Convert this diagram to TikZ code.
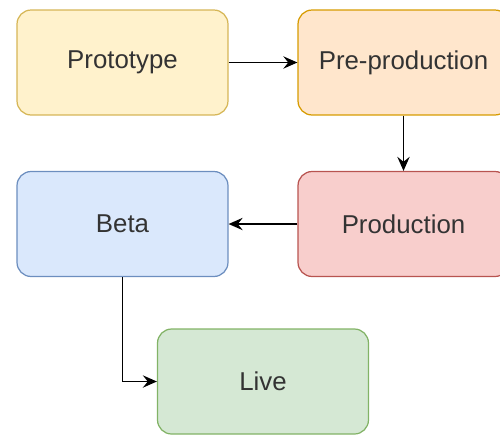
\documentclass[tikz,border=0pt]{standalone}
\usepackage{fontspec}
\setmainfont{Liberation Sans}
\usetikzlibrary{positioning,arrows.meta}

\definecolor{ylwFill}{HTML}{FFF2CC}
\definecolor{ylwLine}{HTML}{D6B656}
\definecolor{orgFill}{HTML}{FFE6CC}
\definecolor{orgLine}{HTML}{D79B00}
\definecolor{redFill}{HTML}{F8CECC}
\definecolor{redLine}{HTML}{B85450}
\definecolor{bluFill}{HTML}{DAE8FC}
\definecolor{bluLine}{HTML}{6C8EBF}
\definecolor{grnFill}{HTML}{D5E8D4}
\definecolor{grnLine}{HTML}{82B366}

\begin{document}
\begin{tikzpicture}[
        x=0.02cm, y=0.02cm,
        >={Stealth[length=8pt,width=7pt,inset=2.8pt]},
        stage/.style={draw, rounded corners=8pt, line width=0.7pt, align=center,
            minimum width=4.22cm, minimum height=2.1cm, text=black!80,
            font=\fontsize{14.7}{17}\selectfont},
        link/.style={->, line width=0.95pt}
    ]
        \useasboundingbox (0,0) rectangle (500,-434);

        \node[stage, fill=ylwFill, draw=ylwLine] (proto) at (122.5,-62.5) {Prototype};
        \node[stage, fill=orgFill, draw=orgLine] (pre)   at (403.5,-62.5) {Pre-production};
        \node[stage, fill=redFill, draw=redLine] (prod)  at (403.5,-224)  {Production};
        \node[stage, fill=bluFill, draw=bluLine] (beta)  at (122.5,-224)  {Beta};
        \node[stage, fill=grnFill, draw=grnLine] (live)  at (263,-381.5)  {Live};

        \draw[link] (proto) -- (pre);
        \draw[link] (pre)   -- (prod);
        \draw[link] (prod)  -- (beta);
        \draw[link] (beta.south) |- (live.west);
    \end{tikzpicture}
\end{document}
